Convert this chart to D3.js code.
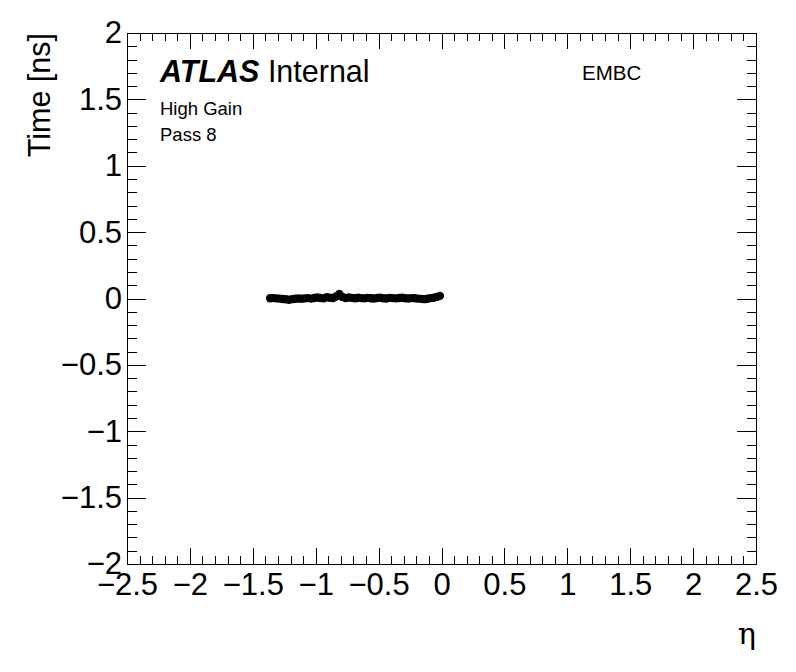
<!DOCTYPE html>
<html>
<head>
<meta charset="utf-8">
<script src="https://cdn.jsdelivr.net/npm/d3@7"></script>
<style>
  html, body { margin: 0; padding: 0; background: #fff; }
  svg { display: block; }
  text { font-family: "Liberation Sans", Arial, Helvetica, sans-serif; fill: #000; }
</style>
</head>
<body>
<svg id="chart" width="796" height="672"></svg>
<script>
// ---- data ----
const etaValues = [
  -1.3625, -1.3375, -1.3125, -1.2875, -1.2625, -1.2375, -1.2125, -1.1875, -1.1625, -1.1375,
  -1.1125, -1.0875, -1.0625, -1.0375, -1.0125, -0.9875, -0.9625, -0.9375, -0.9125, -0.8875,
  -0.8625, -0.8375, -0.8125, -0.7875, -0.7625, -0.7375, -0.7125, -0.6875, -0.6625, -0.6375,
  -0.6125, -0.5875, -0.5625, -0.5375, -0.5125, -0.4875, -0.4625, -0.4375, -0.4125, -0.3875,
  -0.3625, -0.3375, -0.3125, -0.2875, -0.2625, -0.2375, -0.2125, -0.1875, -0.1625, -0.1375,
  -0.1125, -0.0875, -0.0625, -0.0375, -0.0125
];
const timeValues = [
  0.002, 0.003, 0.001, -0.001, -0.004, -0.006, -0.009, -0.005, -0.002, 0.000,
  -0.002, 0.001, 0.003, -0.001, 0.004, 0.008, 0.004, 0.001, 0.010, 0.006,
  0.004, 0.015, 0.035, 0.012, 0.004, 0.008, 0.005, 0.002, 0.006, 0.003,
  0.001, 0.005, 0.002, 0.000, 0.004, 0.006, 0.002, 0.000, 0.005, 0.003,
  0.001, 0.004, 0.006, 0.002, 0.000, 0.003, 0.002, -0.001, -0.003, -0.005,
  -0.002, 0.003, 0.006, 0.012, 0.020
];
const xMajorTicks = [-2.5, -2, -1.5, -1, -0.5, 0, 0.5, 1, 1.5, 2, 2.5];
const yMajorTicks = [-2, -1.5, -1, -0.5, 0, 0.5, 1, 1.5, 2];
const xTitle = "η";
const yTitle = "Time [ns]";
const atlasLabel = "ATLAS";
const atlasSuffix = "Internal";
const infoLines = ["High Gain", "Pass 8"];
const regionLabel = "EMBC";

// ---- layout ----
const L = 127, R = 756, T = 33, B = 564;
const W = R - L, H = B - T;
const svg = d3.select("#chart");

const x = d3.scaleLinear().domain([-2.5, 2.5]).range([L, R]);
const y = d3.scaleLinear().domain([-2, 2]).range([B, T]);

const fmt = v => (v < 0 ? "\u2212" : "") + String(Math.abs(v));
const minorX = d3.range(-25, 26).map(d => d / 10).filter(v => !xMajorTicks.some(m => Math.abs(m - v) < 1e-9));
const minorY = d3.range(-20, 21).map(d => d / 10).filter(v => !yMajorTicks.some(m => Math.abs(m - v) < 1e-9));

const majX = 16, minX = 8, majY = 19, minY = 9.5;
const labelSize = "31px";

function styleAxis(g) {
  g.select(".domain").remove();
  g.selectAll("line").attr("stroke", "#000").attr("stroke-width", 1).attr("shape-rendering", "crispEdges");
  g.selectAll("text").style("font-size", labelSize).attr("fill", "#000");
}

// bottom
svg.append("g").attr("transform", `translate(0,${B})`)
  .call(d3.axisBottom(x).tickValues(xMajorTicks).tickSize(-majX).tickPadding(9).tickFormat(fmt))
  .call(styleAxis);
svg.append("g").attr("transform", `translate(0,${B})`)
  .call(d3.axisBottom(x).tickValues(minorX).tickSize(-minX).tickFormat(""))
  .call(styleAxis);
// top
svg.append("g").attr("transform", `translate(0,${T})`)
  .call(d3.axisTop(x).tickValues(xMajorTicks).tickSize(-majX).tickFormat(""))
  .call(styleAxis);
svg.append("g").attr("transform", `translate(0,${T})`)
  .call(d3.axisTop(x).tickValues(minorX).tickSize(-minX).tickFormat(""))
  .call(styleAxis);
// left
svg.append("g").attr("transform", `translate(${L},0)`)
  .call(d3.axisLeft(y).tickValues(yMajorTicks).tickSize(-majY).tickPadding(5).tickFormat(fmt))
  .call(styleAxis);
svg.append("g").attr("transform", `translate(${L},0)`)
  .call(d3.axisLeft(y).tickValues(minorY).tickSize(-minY).tickFormat(""))
  .call(styleAxis);
// right
svg.append("g").attr("transform", `translate(${R},0)`)
  .call(d3.axisRight(y).tickValues(yMajorTicks).tickSize(-majY).tickFormat(""))
  .call(styleAxis);
svg.append("g").attr("transform", `translate(${R},0)`)
  .call(d3.axisRight(y).tickValues(minorY).tickSize(-minY).tickFormat(""))
  .call(styleAxis);

// frame
svg.append("rect").attr("x", L).attr("y", T).attr("width", W).attr("height", H)
  .attr("fill", "none").attr("stroke", "#000").attr("stroke-width", 1).attr("shape-rendering", "crispEdges");

// data points
const pts = etaValues.map((e, i) => ({ eta: e, t: timeValues[i] }));
svg.append("g").selectAll("circle").data(pts).join("circle")
  .attr("cx", d => x(d.eta)).attr("cy", d => y(d.t)).attr("r", 4.2)
  .attr("fill", "#000");

// axis titles
svg.append("text").attr("x", R).attr("y", 644).attr("text-anchor", "end")
  .style("font-family", "'DejaVu Serif', 'Liberation Serif', serif").style("font-size", "30px").text(xTitle);
svg.append("text").attr("transform", `translate(50,${T}) rotate(-90)`).attr("text-anchor", "end")
  .style("font-size", "30.5px").text(yTitle);

// labels
const atlas = svg.append("text").attr("x", 160).attr("y", 82).style("font-size", "30.5px");
atlas.append("tspan").style("font-weight", "bold").style("font-style", "italic").text(atlasLabel);
atlas.append("tspan").text(" " + atlasSuffix);
infoLines.forEach((s, i) => {
  svg.append("text").attr("x", 160).attr("y", 115 + i * 26).style("font-size", "18.5px").text(s);
});
svg.append("text").attr("x", 582).attr("y", 80).style("font-size", "20.5px").text(regionLabel);
</script>
</body>
</html>
